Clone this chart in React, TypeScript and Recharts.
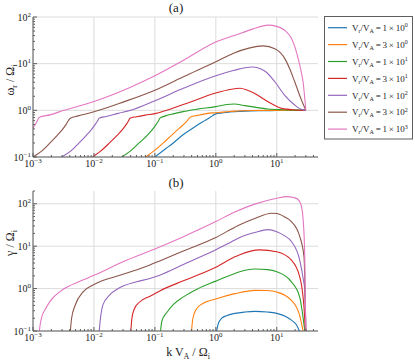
import React from "react";
import { LineChart, Line, XAxis, YAxis, CartesianGrid } from "recharts";

const FONT = "'Liberation Serif', 'DejaVu Serif', serif";
const INK = "#222222";
const FRAME = "#5e5e5e";
const GRID = "#dcdcdc";

// legend: V_r / V_A = mantissa x 10^exponent
const vrMantissa = ["1", "3", "1", "3", "1", "3", "1"];
const vrExponent = ["0", "0", "1", "1", "2", "2", "3"];
const colors = ["#1f77b4", "#ff7f0e", "#2ca02c", "#d62728", "#9467bd", "#8c564b", "#e377c2"];

const kDomain: [number, number] = [0.001, 47.5];
const omegaDomain: [number, number] = [0.1, 100];
const gammaDomain: [number, number] = [0.1, 200];

const kMajor = [0.001, 0.01, 0.1, 1, 10];
const omegaMajor = [0.1, 1, 10, 100];
const gammaMajor = [0.1, 1, 10, 100];

// panel (a): real frequency omega_r / Omega_i, pairs of [k V_A / Omega_i, value]
const omega1e0: [number, number][] = [
  [0.09, 0.09], [0.15, 0.15], [0.2, 0.2], [0.29, 0.3], [0.45, 0.44], [0.6, 0.56], [0.8, 0.7],
  [1.0, 0.84], [1.2, 0.87], [1.5, 0.9], [2, 0.93], [3, 0.96], [5, 0.98], [10, 0.99], [20, 1.0], [30, 1.0],
];
const omega3e0: [number, number][] = [
  [0.066, 0.094], [0.1, 0.14], [0.16, 0.24], [0.25, 0.41], [0.33, 0.57], [0.385, 0.72], [0.5, 0.78],
  [0.7, 0.85], [1, 0.89], [1.5, 0.93], [2, 0.96], [4, 0.99], [10, 1.0], [30, 1.0],
];
const omega1e1: [number, number][] = [
  [0.0285, 0.1], [0.04, 0.135], [0.055, 0.2], [0.075, 0.29], [0.09, 0.38], [0.105, 0.5], [0.115, 0.6],
  [0.121, 0.68], [0.15, 0.76], [0.2, 0.84], [0.29, 0.94], [0.5, 1.06], [1, 1.2], [1.5, 1.33], [2, 1.37],
  [3, 1.26], [4.35, 1.17], [7.2, 1.07], [12, 1.03], [20, 1.01], [30, 1.0],
];
const omega3e1: [number, number][] = [
  [0.0095, 0.1], [0.013, 0.135], [0.018, 0.2], [0.024, 0.29], [0.029, 0.38], [0.034, 0.5], [0.037, 0.6],
  [0.039, 0.68], [0.05, 0.73], [0.07, 0.79], [0.1, 0.85], [0.3, 1.35], [1, 2.35], [1.7, 2.8], [2.5, 2.97],
  [3.3, 2.7], [4.35, 2.3], [7.2, 1.53], [12, 1.1], [20, 1.02], [30, 1.0],
];
const omega1e2: [number, number][] = [
  [0.00295, 0.1], [0.0042, 0.135], [0.0057, 0.2], [0.0075, 0.29], [0.009, 0.38], [0.0105, 0.5],
  [0.0115, 0.6], [0.0122, 0.68], [0.016, 0.74], [0.025, 0.86], [0.04, 1.0], [0.1, 1.6], [0.3, 3.0],
  [1, 5.5], [2, 7.2], [3, 8.2], [4.1, 8.5], [5.5, 7.7], [6.5, 6.8], [9.3, 4.1], [13.5, 2.1], [19.7, 1.3],
  [25, 1.05], [30, 1.0],
];
const omega3e2: [number, number][] = [
  [0.001, 0.1], [0.0014, 0.135], [0.0019, 0.2], [0.0025, 0.29], [0.003, 0.38], [0.0035, 0.5],
  [0.0038, 0.6], [0.0041, 0.68], [0.0055, 0.76], [0.01, 0.93], [0.03, 1.5], [0.1, 2.7], [0.3, 5.3],
  [1, 11], [2, 17], [3.5, 21.5], [6, 24], [9.3, 21], [13.5, 13], [16.5, 7.5], [19.7, 4.1], [25.4, 1.66],
  [30, 1.0],
];
const omega1e3: [number, number][] = [
  [0.001, 0.42], [0.00112, 0.53], [0.0012, 0.63], [0.00127, 0.71], [0.0019, 0.8], [0.0032, 1.0],
  [0.01, 1.55], [0.039, 3.1], [0.1, 5.5], [0.3, 12], [1, 29], [2, 40], [4, 55], [7.2, 67], [10, 63],
  [13.5, 52], [17.4, 35], [20, 22], [22.4, 13], [25, 7], [27, 4.1], [30, 1.0],
];

// panel (b): growth rate gamma / Omega_i
const gamma1e0: [number, number][] = [
  [1.03, 0.1], [1.1, 0.15], [1.25, 0.2], [1.5, 0.23], [2.05, 0.26], [3, 0.28], [4.35, 0.29], [7, 0.28],
  [10, 0.26], [14, 0.22], [17.4, 0.18], [21, 0.14], [23.5, 0.1],
];
const gamma3e0: [number, number][] = [
  [0.4, 0.1], [0.42, 0.2], [0.48, 0.33], [0.6, 0.44], [1, 0.57], [2.05, 0.76], [4.35, 0.91], [7, 0.9],
  [10, 0.83], [17.4, 0.53], [23.8, 0.23], [27, 0.1],
];
const gamma1e1: [number, number][] = [
  [0.124, 0.1], [0.13, 0.17], [0.156, 0.27], [0.2, 0.42], [0.29, 0.63], [0.5, 0.98], [1, 1.5],
  [2.05, 2.27], [2.47, 2.5], [4.35, 2.9], [7, 2.8], [10, 2.5], [17.4, 1.44], [23.8, 0.63], [27, 0.21],
  [28.8, 0.1],
];
const gamma3e1: [number, number][] = [
  [0.0403, 0.1], [0.042, 0.2], [0.046, 0.33], [0.055, 0.47], [0.083, 0.66], [0.12, 0.88], [0.3, 1.55],
  [1, 3.2], [2.05, 5.6], [2.47, 6.3], [5.2, 8.2], [10, 7.4], [17.4, 4.7], [23.8, 1.9], [26, 1.0],
  [28, 0.36], [29.5, 0.1],
];
const gamma1e2: [number, number][] = [
  [0.0122, 0.1], [0.0128, 0.2], [0.0141, 0.42], [0.018, 0.7], [0.025, 1.0], [0.05, 1.45], [0.083, 1.73],
  [0.12, 2.07], [0.3, 3.75], [1, 8.2], [2.05, 14], [2.47, 16], [4.35, 21], [7.2, 24.5], [10, 22],
  [13.5, 17.5], [17.4, 12.9], [23.8, 4.7], [27, 1.8], [28.8, 0.9], [30, 0.1],
];
const gamma3e2: [number, number][] = [
  [0.0041, 0.1], [0.0043, 0.2], [0.0049, 0.4], [0.0067, 0.85], [0.01, 1.25], [0.03, 2.17],
  [0.083, 3.6], [0.12, 4.5], [0.3, 7.8], [1, 16], [2.05, 28], [2.47, 32], [4.35, 45], [8.2, 60],
  [10, 59], [13.5, 49], [17.4, 38], [23.8, 17], [28, 5.6], [30, 0.1],
];
const gamma1e3: [number, number][] = [
  [0.00127, 0.1], [0.00132, 0.15], [0.0014, 0.22], [0.0016, 0.33], [0.0019, 0.5], [0.0031, 0.95],
  [0.006, 1.5], [0.01, 2.05], [0.03, 4.3], [0.1, 8.6], [0.3, 17], [1, 38], [2.05, 64], [4.35, 98],
  [10, 135], [14.4, 147], [19, 140], [22.4, 126], [25, 95], [27, 45], [28.8, 6], [29.9, 0.1],
];

const omegaSeries = [omega1e0, omega3e0, omega1e1, omega3e1, omega1e2, omega3e2, omega1e3];
const gammaSeries = [gamma1e0, gamma3e0, gamma1e1, gamma3e1, gamma1e2, gamma3e2, gamma1e3];

const toPoints = (pairs: [number, number][]) => pairs.map(([x, y]) => ({ x, y }));

// decade ticks plus 2..9 minor ticks inside a range
function logTicks(lo: number, hi: number) {
  const out: number[] = [];
  for (let d = lo; d <= hi * 1.0001; d *= 10) {
    for (let m = 1; m < 10; m++) {
      const v = +(d * m).toPrecision(6);
      if (v >= lo * 0.9999 && v <= hi * 1.0001) out.push(v);
    }
  }
  return out;
}

const kTicks = logTicks(0.001, 47.5);
const omegaTicks = logTicks(0.1, 100);
const gammaTicks = logTicks(0.1, 200);

const isMajor = (v: number) => Math.abs(Math.log10(v) - Math.round(Math.log10(v))) < 1e-6;
const expText = (v: number) => {
  const e = Math.round(Math.log10(v));
  return e < 0 ? "\u2212" + -e : String(e);
};

function BottomTick(props: any) {
  const { x, y, payload } = props;
  const major = isMajor(payload.value);
  return (
    <g>
      <line x1={x} x2={x} y1={y} y2={y - (major ? 4 : 2)} stroke={FRAME} />
      {major && (
        <text x={x} y={y + 10} textAnchor="middle" fontFamily={FONT} fontSize={10} fill={INK}>
          10
          <tspan dy={-4} fontSize={7}>
            {expText(payload.value)}
          </tspan>
        </text>
      )}
    </g>
  );
}

function TopTick(props: any) {
  const { x, y, payload } = props;
  const major = isMajor(payload.value);
  return <line x1={x} x2={x} y1={y} y2={y + (major ? 4 : 2)} stroke={FRAME} />;
}

function LeftTick(props: any) {
  const { x, y, payload } = props;
  const major = isMajor(payload.value);
  return (
    <g>
      <line x1={x} x2={x + (major ? 4 : 2)} y1={y} y2={y} stroke={FRAME} />
      {major && (
        <text x={x - 2} y={y + 3.5} textAnchor="end" fontFamily={FONT} fontSize={10} fill={INK}>
          10
          <tspan dy={-4} fontSize={7}>
            {expText(payload.value)}
          </tspan>
        </text>
      )}
    </g>
  );
}

function RightTick(props: any) {
  const { x, y, payload } = props;
  const major = isMajor(payload.value);
  return <line x1={x} x2={x - (major ? 4 : 2)} y1={y} y2={y} stroke={FRAME} />;
}

function Panel({
  series,
  yDomain,
  yTicks,
  yMajor,
  xAxisHeight,
}: {
  series: [number, number][][];
  yDomain: [number, number];
  yTicks: number[];
  yMajor: number[];
  xAxisHeight: number;
}) {
  return (
    <LineChart width={415} height={157 + xAxisHeight} margin={{ top: 17, right: 97, bottom: 0, left: 0 }}>
      <CartesianGrid stroke={GRID} horizontalValues={yMajor} verticalValues={kMajor} />
      <XAxis
        dataKey="x"
        type="number"
        scale="log"
        domain={kDomain}
        allowDataOverflow
        ticks={kTicks}
        interval={0}
        height={xAxisHeight}
        tickSize={0}
        tickMargin={0}
        tickLine={false}
        axisLine={{ stroke: FRAME }}
        tick={(p: any) => <BottomTick {...p} />}
      />
      <XAxis
        xAxisId="top"
        orientation="top"
        dataKey="x"
        type="number"
        scale="log"
        domain={kDomain}
        allowDataOverflow
        ticks={kTicks}
        interval={0}
        height={0}
        tickSize={0}
        tickMargin={0}
        tickLine={false}
        axisLine={{ stroke: FRAME }}
        tick={(p: any) => <TopTick {...p} />}
      />
      <YAxis
        type="number"
        scale="log"
        domain={yDomain}
        allowDataOverflow
        ticks={yTicks}
        interval={0}
        width={33}
        tickSize={0}
        tickMargin={0}
        tickLine={false}
        axisLine={{ stroke: FRAME }}
        tick={(p: any) => <LeftTick {...p} />}
      />
      <YAxis
        yAxisId="right"
        orientation="right"
        type="number"
        scale="log"
        domain={yDomain}
        allowDataOverflow
        ticks={yTicks}
        interval={0}
        width={0}
        tickSize={0}
        tickMargin={0}
        tickLine={false}
        axisLine={{ stroke: FRAME }}
        tick={(p: any) => <RightTick {...p} />}
      />
      {series.map((pairs, i) => (
        <Line
          key={i}
          data={toPoints(pairs)}
          dataKey="y"
          name={`${vrMantissa[i]}e${vrExponent[i]}`}
          type="monotone"
          stroke={colors[i]}
          strokeWidth={1.1}
          dot={false}
          activeDot={false}
          isAnimationActive={false}
        />
      ))}
    </LineChart>
  );
}

export default function App() {
  const rowY = (i: number) => 27.7 + 16.9 * i;
  return (
    <div
      style={{
        position: "absolute",
        left: 0,
        top: 0,
        width: 415,
        height: 362,
        background: "#fff",
        fontFamily: FONT,
        overflow: "hidden",
      }}
    >
      <div style={{ position: "absolute", left: 0, top: 0 }}>
        <Panel series={omegaSeries} yDomain={omegaDomain} yTicks={omegaTicks} yMajor={omegaMajor} xAxisHeight={23} />
      </div>
      <div style={{ position: "absolute", left: 0, top: 174 }}>
        <Panel series={gammaSeries} yDomain={gammaDomain} yTicks={gammaTicks} yMajor={gammaMajor} xAxisHeight={32} />
      </div>
      <svg
        width={415}
        height={362}
        style={{ position: "absolute", left: 0, top: 0, pointerEvents: "none" }}
        fontFamily={FONT}
      >
        <text x={176} y={12} textAnchor="middle" fontSize={13} fill={INK}>
          (a)
        </text>
        <text x={176} y={187} textAnchor="middle" fontSize={13} fill={INK}>
          (b)
        </text>
        <text x={14} y={80} textAnchor="middle" fontSize={12} fill={INK} transform="rotate(-90 14 80)">
          ω
          <tspan dy={3} fontSize={8}>r</tspan>
          <tspan dy={-3}> / Ω</tspan>
          <tspan dy={3} fontSize={8}>i</tspan>
        </text>
        <text x={14} y={243} textAnchor="middle" fontSize={12} fill={INK} transform="rotate(-90 14 243)">
          γ / Ω
          <tspan dy={3} fontSize={8}>i</tspan>
        </text>
        <text x={188} y={356} textAnchor="middle" fontSize={12} fill={INK}>
          k V
          <tspan dy={3} fontSize={8}>A</tspan>
          <tspan dy={-3}> / Ω</tspan>
          <tspan dy={3} fontSize={8}>i</tspan>
        </text>
        <rect x={324.5} y={16.5} width={88} height={122.5} fill="#fff" stroke={FRAME} />
        {colors.map((c, i) => (
          <g key={i}>
            <line x1={328} x2={347} y1={rowY(i)} y2={rowY(i)} stroke={c} strokeWidth={1.2} />
            <text x={352} y={rowY(i) + 3.2} fontSize={9} fill={INK}>
              V
              <tspan dy={2} fontSize={6}>r</tspan>
              <tspan dy={-2}>/V</tspan>
              <tspan dy={2} fontSize={6}>A</tspan>
              <tspan dy={-2}>{`\u2009=\u2009${vrMantissa[i]}\u2009×\u200910`}</tspan>
              <tspan dy={-3.5} fontSize={6}>{vrExponent[i]}</tspan>
            </text>
          </g>
        ))}
      </svg>
    </div>
  );
}
